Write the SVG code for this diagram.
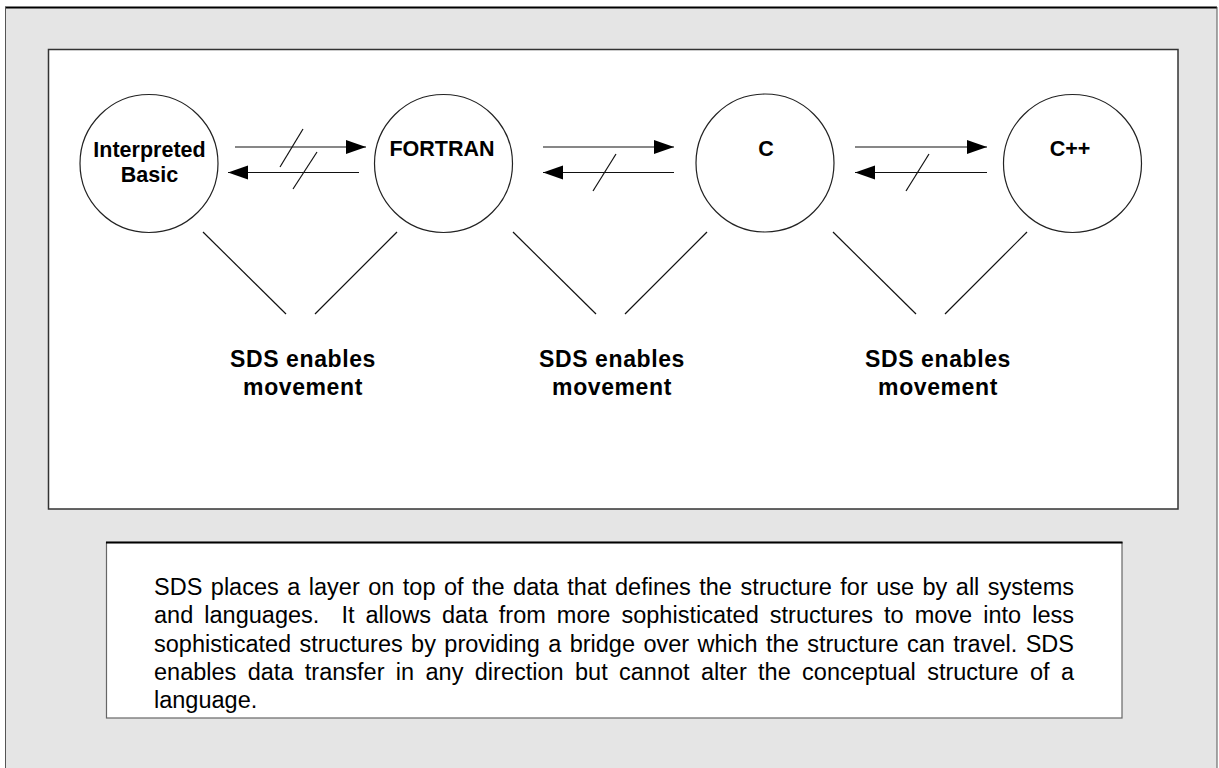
<svg xmlns="http://www.w3.org/2000/svg" width="1219" height="768" viewBox="0 0 1219 768">
<defs>
<style>
.lbl{font-family:"Liberation Sans",Arial,sans-serif;font-weight:bold;font-size:21.5px;fill:#000;text-anchor:middle}
.sds{font-family:"Liberation Sans",Arial,sans-serif;font-weight:bold;font-size:23px;letter-spacing:0.6px;fill:#000;text-anchor:middle}
.body{font-family:"Liberation Sans",Arial,sans-serif;font-size:23.5px;fill:#000}
.node{fill:#fff;stroke:#222;stroke-width:1.2}
.ln{stroke:#111;stroke-width:1.2;fill:none}
</style>
<marker id="ah" markerUnits="userSpaceOnUse" markerWidth="22" markerHeight="16" refX="20" refY="7" orient="auto">
<path d="M0,0 L20,7 L0,14 z" fill="#000"/>
</marker>
</defs>
<g id="background">
<rect x="5" y="7" width="1212" height="770" fill="#e5e5e5"/>
<line x1="5" y1="7.5" x2="1217" y2="7.5" stroke="#000" stroke-width="2"/>
<line x1="5.5" y1="7" x2="5.5" y2="768" stroke="#555" stroke-width="1"/>
<line x1="1217" y1="7" x2="1217" y2="768" stroke="#555" stroke-width="1"/>
<rect x="48.5" y="49.5" width="1129.5" height="459.5" fill="#fff" stroke="#333" stroke-width="1.5"/>
</g>
<g id="node-basic">
<circle class="node" cx="149" cy="163.5" r="69"/>
<text class="lbl" x="149.5" y="157">Interpreted</text>
<text class="lbl" x="149.5" y="182">Basic</text>
</g>
<g id="node-fortran">
<circle class="node" cx="443.5" cy="163.5" r="69"/>
<text class="lbl" x="442" y="156">FORTRAN</text>
</g>
<g id="node-c">
<circle class="node" cx="765" cy="163" r="69"/>
<text class="lbl" x="766" y="156">C</text>
</g>
<g id="node-cpp">
<circle class="node" cx="1072.5" cy="163.5" r="69"/>
<text class="lbl" x="1070" y="156">C++</text>
</g>
<g id="connectors">
<line class="ln" x1="235" y1="147" x2="366" y2="147" marker-end="url(#ah)"/>
<line class="ln" x1="359" y1="172.5" x2="228" y2="172.5" marker-end="url(#ah)"/>
<line class="ln" x1="303" y1="129" x2="280" y2="167"/>
<line class="ln" x1="317" y1="152" x2="293" y2="189"/>
<line class="ln" x1="543" y1="147" x2="674" y2="147" marker-end="url(#ah)"/>
<line class="ln" x1="674" y1="172.5" x2="543" y2="172.5" marker-end="url(#ah)"/>
<line class="ln" x1="616" y1="154" x2="593" y2="191"/>
<line class="ln" x1="855" y1="147" x2="987" y2="147" marker-end="url(#ah)"/>
<line class="ln" x1="987" y1="172.5" x2="855" y2="172.5" marker-end="url(#ah)"/>
<line class="ln" x1="929" y1="154" x2="906" y2="191"/>
<line class="ln" x1="203" y1="232" x2="286" y2="314"/>
<line class="ln" x1="397" y1="232" x2="315" y2="314"/>
<line class="ln" x1="513" y1="232" x2="596" y2="314"/>
<line class="ln" x1="707" y1="232" x2="625" y2="314"/>
<line class="ln" x1="833" y1="232" x2="916" y2="314"/>
<line class="ln" x1="1027" y1="232" x2="945" y2="314"/>
</g>
<g id="label-1">
<text class="sds" x="303" y="367">SDS enables</text>
<text class="sds" x="303" y="395">movement</text>
</g>
<g id="label-2">
<text class="sds" x="612" y="367">SDS enables</text>
<text class="sds" x="612" y="395">movement</text>
</g>
<g id="label-3">
<text class="sds" x="938" y="367">SDS enables</text>
<text class="sds" x="938" y="395">movement</text>
</g>
<g id="description">
<rect x="106.5" y="542.5" width="1015.5" height="175.5" fill="#fff" stroke="#666" stroke-width="1.2"/>
<line x1="106" y1="542.5" x2="1122.5" y2="542.5" stroke="#000" stroke-width="2"/>
<text class="body" x="154" y="595" word-spacing="1.9" textLength="920" lengthAdjust="spacing">SDS places a layer on top of the data that defines the structure for use by all systems</text>
<text class="body" x="154" y="623" xml:space="preserve" word-spacing="4.5" textLength="920" lengthAdjust="spacing">and languages.  It allows data from more sophisticated structures to move into less</text>
<text class="body" x="154" y="652" word-spacing="1.9" textLength="920" lengthAdjust="spacing">sophisticated structures by providing a bridge over which the structure can travel. SDS</text>
<text class="body" x="154" y="680" word-spacing="4.8" textLength="920" lengthAdjust="spacing">enables data transfer in any direction but cannot alter the conceptual structure of a</text>
<text class="body" x="154" y="708">language.</text>
</g>
</svg>
